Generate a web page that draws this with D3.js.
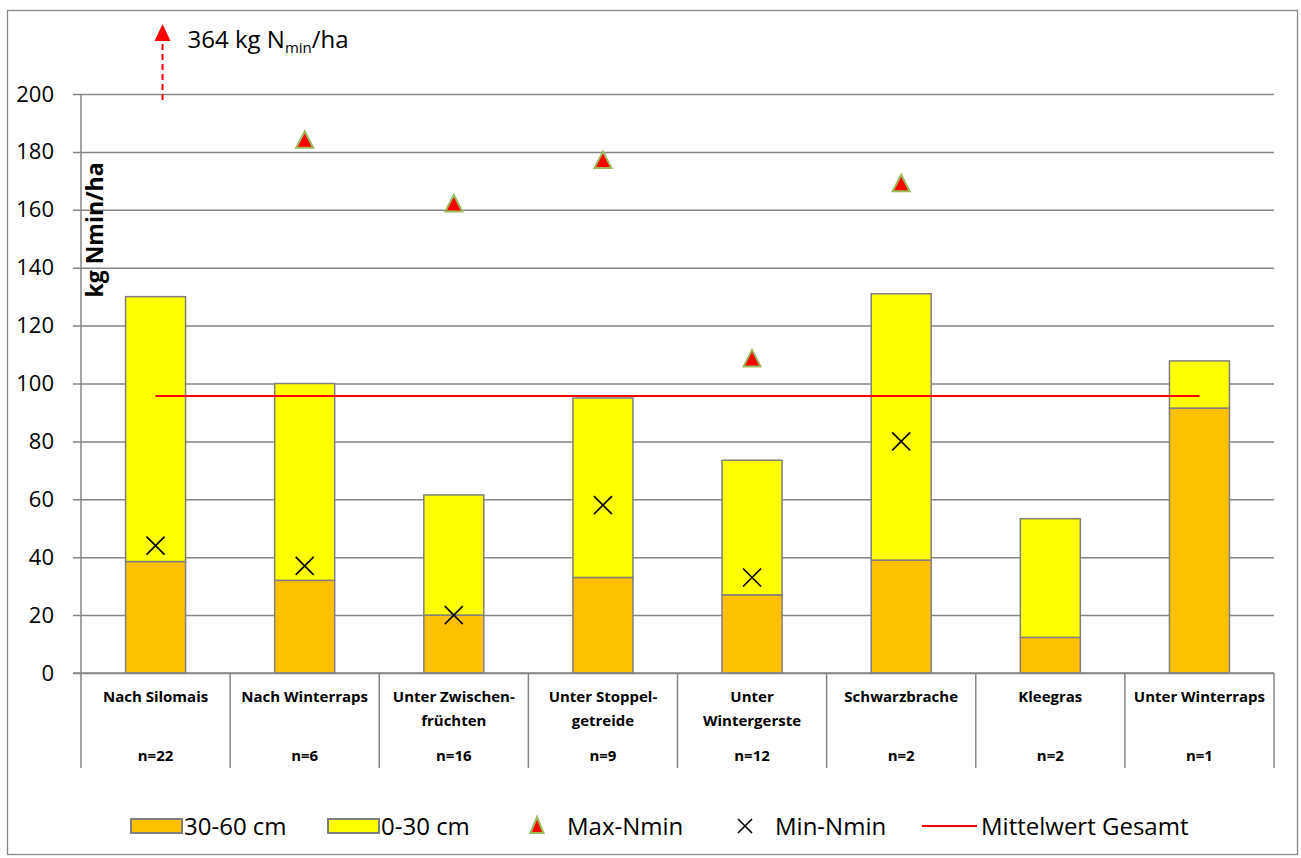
<!DOCTYPE html>
<html><head><meta charset="utf-8">
<script src="https://cdn.jsdelivr.net/npm/d3@7"></script>
<style>body{margin:0;background:#fff}svg{display:block}</style>
</head><body>
<svg id="c" width="1301" height="858"></svg>
<script>
const catLine1 = ["Nach Silomais","Nach Winterraps","Unter Zwischen-","Unter Stoppel-","Unter","Schwarzbrache","Kleegras","Unter Winterraps"];
const catLine2 = ["","","früchten","getreide","Wintergerste","","",""];
const nLabels = ["n=22","n=6","n=16","n=9","n=12","n=2","n=2","n=1"];
const depth3060 = [38.5, 32, 20, 33, 27, 39, 12.3, 91.5];
const depth030 = [91.5, 68, 41.5, 62, 46.5, 92, 41, 16.3];
const maxNmin = [364, 184, 162, 177, 108.5, 169, null, null];
const minNmin = [44, 37, 20, 58, 33, 80, null, null];
const meanTotal = 95.7;
const yTicks = [0,20,40,60,80,100,120,140,160,180,200];

const svg = d3.select("#c");
const FONT = "'Open Sans', sans-serif";
const L = 81, R = 1274, T = 94, B = 673;
const idx = d3.range(catLine1.length);
const x = d3.scaleBand().domain(idx).range([L, R]).paddingInner(0).paddingOuter(0);
const y = d3.scaleLinear().domain([0, 200]).range([B, T]);
const GRID = "#868686";

// outer border
svg.append("rect").attr("x",7.5).attr("y",10.5).attr("width",1290).attr("height",844)
  .attr("fill","none").attr("stroke",GRID).attr("stroke-width",1.3);

// gridlines + y axis
const yAxis = d3.axisLeft(y).tickValues(yTicks).tickSize(-(R-L)).tickPadding(27).tickSizeOuter(0);
const ga = svg.append("g").attr("transform",`translate(${L},0)`).call(yAxis);
ga.select(".domain").remove();
ga.selectAll(".tick line").attr("stroke",GRID).attr("stroke-width",1.5).attr("x1",-8);
ga.selectAll(".tick text").attr("font-family",FONT).attr("font-size",22).attr("fill","#000");
svg.append("line").attr("x1",L).attr("x2",L).attr("y1",T).attr("y2",B).attr("stroke",GRID).attr("stroke-width",1.5);

// category separators in axis area
const seps = idx.map(i => x(i)).concat([R]);
svg.selectAll(".sep").data(seps).enter().append("line")
  .attr("x1",d=>d).attr("x2",d=>d).attr("y1",B).attr("y2",768)
  .attr("stroke",GRID).attr("stroke-width",1.5);

// bars
const bw = 60;
const bx = i => x(i) + x.bandwidth()/2 - bw/2;
svg.selectAll(".b1").data(idx).enter().append("rect")
  .attr("x",bx).attr("width",bw)
  .attr("y",i=>y(depth3060[i])).attr("height",i=>y(0)-y(depth3060[i]))
  .attr("fill","#FFC000").attr("stroke","#7f7f7f").attr("stroke-width",1.5);
svg.selectAll(".b2").data(idx).enter().append("rect")
  .attr("x",bx).attr("width",bw)
  .attr("y",i=>y(depth3060[i]+depth030[i])).attr("height",i=>y(depth3060[i])-y(depth3060[i]+depth030[i]))
  .attr("fill","#FFFF00").attr("stroke","#7f7f7f").attr("stroke-width",1.5);

// x axis baseline
svg.append("line").attr("x1",L-8).attr("x2",R).attr("y1",B).attr("y2",B).attr("stroke",GRID).attr("stroke-width",1.5);

// mean line
const cx = i => x(i) + x.bandwidth()/2;
svg.append("line").attr("x1",cx(0)).attr("x2",cx(idx.length-1)).attr("y1",y(meanTotal)).attr("y2",y(meanTotal))
  .attr("stroke","#ff0000").attr("stroke-width",2);

// min markers
const xs = 9;
idx.filter(i=>minNmin[i]!=null).forEach(i=>{
  const px=cx(i), py=y(minNmin[i]);
  svg.append("path").attr("d",`M${px-xs},${py-xs}L${px+xs},${py+xs}M${px-xs},${py+xs}L${px+xs},${py-xs}`)
    .attr("stroke","#000").attr("stroke-width",1.6).attr("fill","none");
});

// max markers
const tri = (px,py) => `M${px},${py-9}L${px+8.5},${py+7.5}L${px-8.5},${py+7.5}Z`;
idx.filter(i=>maxNmin[i]!=null && maxNmin[i]<=200).forEach(i=>{
  svg.append("path").attr("d",tri(cx(i),y(maxNmin[i])))
    .attr("fill","#ff0000").attr("stroke","#9bbb59").attr("stroke-width",2);
});

// off-scale max annotation
idx.filter(i=>maxNmin[i]!=null && maxNmin[i]>200).forEach(i=>{
  const ax = cx(i)+7;
  svg.append("line").attr("x1",ax).attr("x2",ax).attr("y1",100).attr("y2",40)
    .attr("stroke","#ff0000").attr("stroke-width",2).attr("stroke-dasharray","6,4");
  svg.append("path").attr("d",`M${ax},24L${ax+8},41L${ax-8},41Z`).attr("fill","#ff0000");
  const t = svg.append("text").attr("x",ax+25).attr("y",48).attr("font-family",FONT).attr("font-size",24).attr("fill","#000");
  t.append("tspan").text(`${maxNmin[i]} kg N`);
  t.append("tspan").attr("font-size",15).attr("dy",5).text("min");
  t.append("tspan").attr("dy",-5).text("/ha");
});

// y label
svg.append("text").attr("transform","translate(103,230) rotate(-90)").attr("text-anchor","middle")
  .attr("font-family",FONT).attr("font-weight","bold").attr("font-size",23).text("kg Nmin/ha");

// category labels
const lab = svg.append("g").attr("font-family",FONT).attr("font-weight","bold").attr("font-size",15).attr("text-anchor","middle").attr("fill","#000");
idx.forEach(i=>{
  lab.append("text").attr("x",cx(i)).attr("y",702).text(catLine1[i]);
  if (catLine2[i]) lab.append("text").attr("x",cx(i)).attr("y",726).text(catLine2[i]);
  lab.append("text").attr("x",cx(i)).attr("y",761).text(nLabels[i]);
});

// legend
const lg = svg.append("g").attr("font-family",FONT).attr("font-size",24).attr("fill","#000");
const ly = 826;
lg.append("rect").attr("x",131).attr("y",ly-7).attr("width",51).attr("height",14).attr("fill","#FFC000").attr("stroke","#7f7f7f").attr("stroke-width",2);
lg.append("text").attr("x",184).attr("y",ly+9).text("30-60 cm");
lg.append("rect").attr("x",328).attr("y",ly-7).attr("width",51).attr("height",14).attr("fill","#FFFF00").attr("stroke","#7f7f7f").attr("stroke-width",2);
lg.append("text").attr("x",381).attr("y",ly+9).text("0-30 cm");
lg.append("path").attr("d",`M537,${ly-9}L543.5,${ly+7}L530.5,${ly+7}Z`).attr("fill","#ff0000").attr("stroke","#9bbb59").attr("stroke-width",2);
lg.append("text").attr("x",567).attr("y",ly+9).text("Max-Nmin");
lg.append("path").attr("d",`M738,${ly-7}L752,${ly+7}M738,${ly+7}L752,${ly-7}`).attr("stroke","#000").attr("stroke-width",1.6);
lg.append("text").attr("x",775).attr("y",ly+9).text("Min-Nmin");
lg.append("line").attr("x1",922).attr("x2",977).attr("y1",ly).attr("y2",ly).attr("stroke","#ff0000").attr("stroke-width",2);
lg.append("text").attr("x",981).attr("y",ly+9).text("Mittelwert Gesamt");
</script>
</body></html>
